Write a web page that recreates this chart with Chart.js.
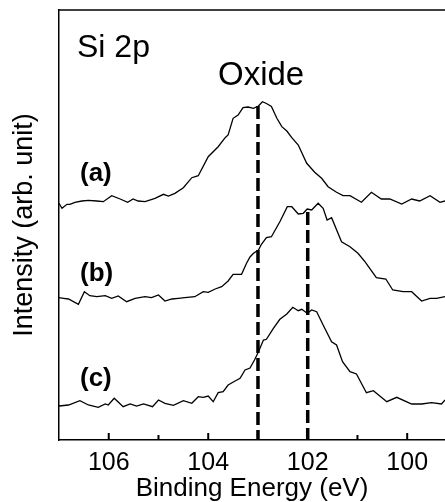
<!DOCTYPE html>
<html>
<head>
<meta charset="utf-8">
<script src="https://cdn.jsdelivr.net/npm/chart.js@4/dist/chart.umd.min.js"></script>
<style>
  html, body { margin: 0; padding: 0; background: #fff; }
  #wrap { width: 445px; height: 502px; position: relative; }
</style>
</head>
<body>
<div id="wrap"><canvas id="xps"></canvas></div>
<script>
// Si 2p spectra, binding energy (eV) vs intensity (arb. unit), curves offset vertically
const energyA = [107.00,106.94,106.84,106.78,106.68,106.54,106.41,106.24,106.11,105.94,105.77,105.62,105.51,105.41,105.27,105.07,104.90,104.80,104.67,104.50,104.33,104.20,104.00,103.80,103.66,103.60,103.50,103.40,103.30,103.20,103.09,102.99,102.91,102.83,102.73,102.62,102.52,102.42,102.32,102.19,102.02,101.86,101.72,101.59,101.42,101.29,101.15,100.92,100.72,100.52,100.35,100.11,99.91,99.75,99.54,99.34,99.24];
const intensityA = [236.7,231.7,235.7,235.7,237.7,239,239.7,239,238.3,244.3,241,237.7,241,239,238.3,241.7,245.7,244,246.7,252.3,262.3,264.3,283.3,293.3,302.3,305,321.7,325,332.3,333,331.7,334,338.3,336.5,333.5,321.7,313.3,309,302.3,295,276.7,267.7,261.7,253.3,247.7,244.3,244.3,237.7,247.7,241,241,236,241,239,244.3,237.7,239];

const energyB = [107.00,106.91,106.81,106.61,106.49,106.38,106.24,106.07,105.94,105.81,105.64,105.47,105.27,105.14,105.00,104.87,104.73,104.60,104.47,104.27,104.10,104.00,103.86,103.73,103.60,103.50,103.33,103.23,103.16,103.09,102.99,102.93,102.83,102.73,102.56,102.41,102.32,102.19,102.09,102.01,101.92,101.79,101.69,101.61,101.52,101.32,101.15,100.99,100.85,100.62,100.43,100.29,100.08,99.91,99.71,99.54,99.41,99.24];
const intensityB = [142.3,141.7,141,135.7,148.3,144.3,143.3,144.3,141.7,144,138.3,141.7,143.3,142.3,145,139,141,141.7,142.3,143.3,148.3,147.7,151,153.3,159,165.7,165.7,176.7,183,186.7,190,195.7,202.3,203.3,218.3,233.3,233.3,226,226.7,231,230,236.7,231.7,220,222.3,198.3,193.3,186.7,178.3,162.3,161,150,148.3,148.3,139,141.7,141.7,143.3];

const energyC = [107.00,106.81,106.58,106.41,106.21,106.07,106.01,105.89,105.71,105.57,105.44,105.30,105.12,105.00,104.87,104.70,104.50,104.33,104.20,104.10,104.00,103.90,103.80,103.70,103.60,103.46,103.36,103.26,103.16,103.07,102.99,102.89,102.83,102.69,102.56,102.42,102.30,102.19,102.12,102.01,101.92,101.82,101.69,101.52,101.42,101.30,101.15,101.02,100.82,100.68,100.41,100.21,99.91,99.71,99.51,99.31,99.24];
const intensityC = [34,35,39.3,35,32.7,36,35,41.7,33.3,36,34,36,33.3,40,36.7,34.7,39.3,36.7,43.3,42.7,44,38.3,47.3,48.3,55,59,61.7,70,72,80,88.3,100,100.7,111.7,120.7,126,132.7,129.3,130.7,126.7,130,128.3,115,98.3,95,78.3,68.3,66,47.3,49.3,38.3,42.7,36,36,37.3,36,40];

// oxide peak markers: position (eV) and where each dashed line starts
const markerEnergies = [103.0, 102.0];
const markerTops = [334, 228];

const majorTicks = [106, 104, 102, 100];
const minorTicks = [105, 103, 101];

const curveLabels = ['(a)', '(b)', '(c)'];

function toPoints(xs, ys) {
  return xs.map((x, i) => ({ x: x, y: ys[i] }));
}

const spectra = [[energyA, intensityA], [energyB, intensityB], [energyC, intensityC]].map(([xs, ys]) => ({
  data: toPoints(xs, ys),
  borderColor: '#000',
  borderWidth: 1.3,
  pointRadius: 0,
  tension: 0,
  fill: false
}));

const markers = markerEnergies.map((e, i) => ({
  data: [{ x: e, y: markerTops[i] }, { x: e, y: 0 }],
  borderColor: '#000',
  borderWidth: 3.5,
  borderDash: [13, 5],
  borderCapStyle: 'butt',
  pointRadius: 0,
  fill: false
}));

// frame top line, inward x ticks and text annotations
const decorations = {
  id: 'decorations',
  afterDraw(chart) {
    const { ctx, chartArea, scales } = chart;
    const x = scales.x;
    ctx.save();
    ctx.strokeStyle = '#000';
    ctx.lineWidth = 1.5;
    ctx.beginPath();
    ctx.moveTo(chartArea.left, chartArea.top);
    ctx.lineTo(chartArea.right, chartArea.top);
    ctx.stroke();

    ctx.lineWidth = 2;
    majorTicks.forEach(v => {
      const px = x.getPixelForValue(v);
      ctx.beginPath();
      ctx.moveTo(px, chartArea.bottom);
      ctx.lineTo(px, chartArea.bottom - 7);
      ctx.stroke();
    });
    minorTicks.forEach(v => {
      const px = x.getPixelForValue(v);
      ctx.beginPath();
      ctx.moveTo(px, chartArea.bottom);
      ctx.lineTo(px, chartArea.bottom - 5);
      ctx.stroke();
    });

    ctx.fillStyle = '#000';
    ctx.textAlign = 'left';
    ctx.textBaseline = 'alphabetic';
    ctx.font = '32px "Liberation Sans", Arial, sans-serif';
    ctx.fillText('Si 2p', 77, 57);
    ctx.font = '33px "Liberation Sans", Arial, sans-serif';
    ctx.fillText('Oxide', 218, 85);

    ctx.font = 'bold 26px "Liberation Sans", Arial, sans-serif';
    const labelBaselines = [181, 281, 386];
    curveLabels.forEach((t, i) => ctx.fillText(t, 80, labelBaselines[i]));
    ctx.restore();
  }
};

new Chart(document.getElementById('xps'), {
  type: 'line',
  data: { datasets: spectra.concat(markers) },
  options: {
    responsive: true,
    maintainAspectRatio: false,
    animation: false,
    layout: { padding: { top: 10, right: 0, left: 0, bottom: 0 } },
    plugins: { legend: { display: false }, tooltip: { enabled: false } },
    scales: {
      x: {
        type: 'linear',
        reverse: true,
        min: 99.24,
        max: 107,
        grid: { display: false },
        border: { display: true, color: '#000', width: 1.5 },
        afterBuildTicks: scale => {
          scale.ticks = majorTicks.map(v => ({ value: v }));
        },
        afterFit: scale => { scale.height = 62; },
        ticks: {
          color: '#000',
          padding: 0,
          maxRotation: 0,
          autoSkip: false,
          font: { family: '"Liberation Sans", Arial, sans-serif', size: 25 },
          callback: v => String(v)
        },
        title: {
          display: true,
          text: 'Binding Energy (eV)',
          color: '#000',
          padding: { top: 0, bottom: 0 },
          font: { family: '"Liberation Sans", Arial, sans-serif', size: 26, lineHeight: 1 }
        }
      },
      y: {
        type: 'linear',
        min: 0,
        max: 430,
        grid: { display: false },
        border: { display: true, color: '#000', width: 1.5 },
        ticks: { display: false },
        afterFit: scale => { scale.width = 59; },
        title: {
          display: true,
          text: 'Intensity (arb. unit)',
          color: '#000',
          padding: { top: 11, bottom: 0 },
          font: { family: '"Liberation Sans", Arial, sans-serif', size: 27, lineHeight: 1 }
        }
      }
    }
  },
  plugins: [decorations]
});
</script>
</body>
</html>
